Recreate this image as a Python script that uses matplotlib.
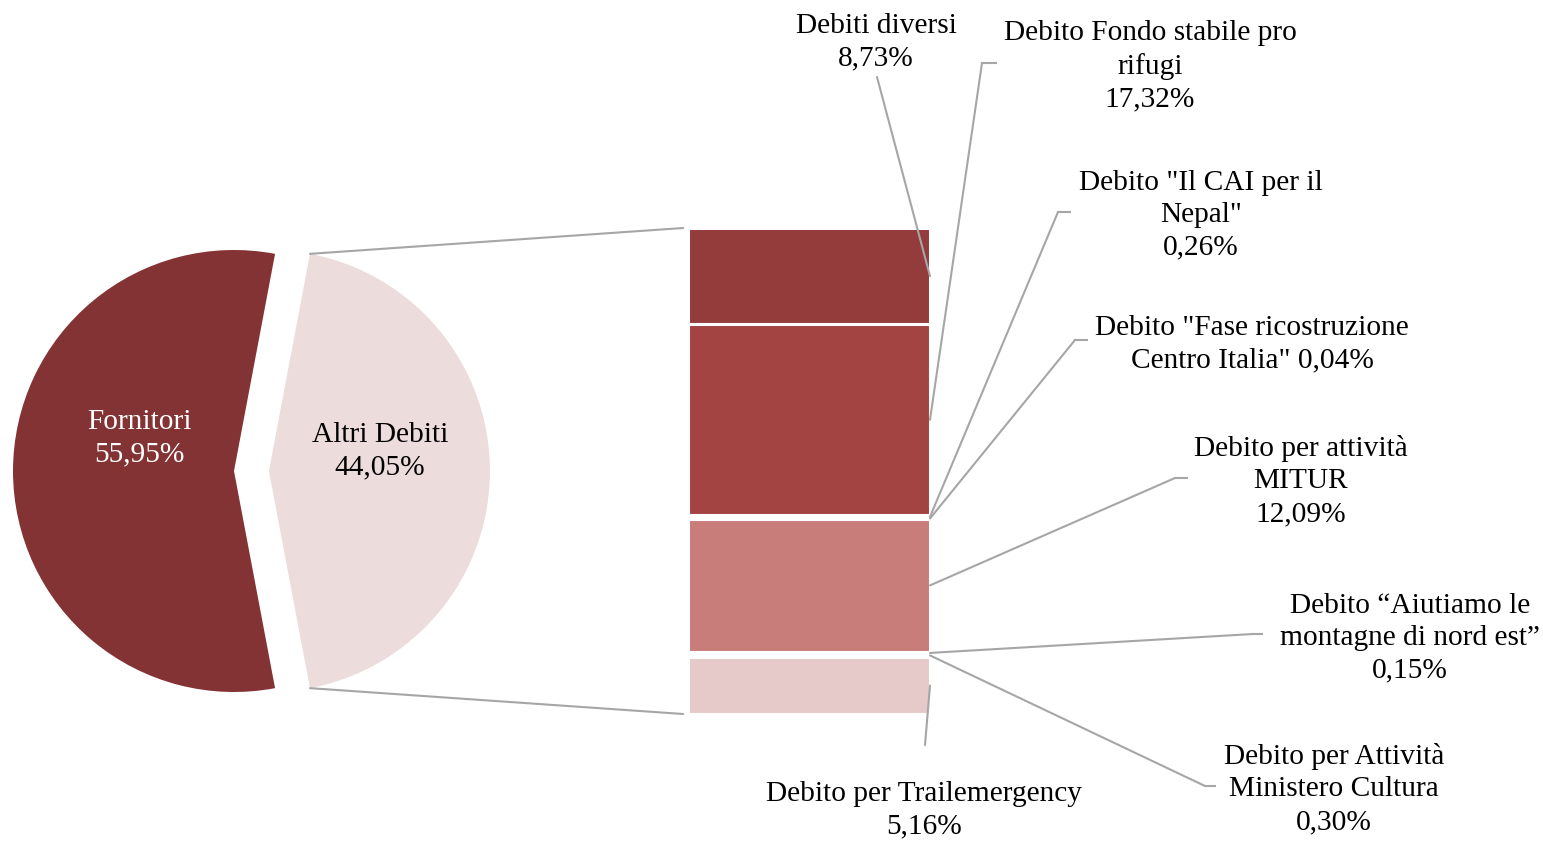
import numpy as np
import matplotlib.pyplot as plt
from matplotlib.patches import ConnectionPatch
from matplotlib.lines import Line2D

plt.rcParams['font.family'] = ['Liberation Serif', 'DejaVu Serif']

# pie data
pie_labels = ['Fornitori', 'Altri Debiti']
pie_values = [55.95, 44.05]
pie_colors = ['#843335', '#ECDCDC']

# breakdown of "Altri Debiti", top to bottom
bar_labels = ['Debiti diversi', 'Debito Fondo stabile pro\nrifugi',
              'Debito "Il CAI per il\nNepal"', 'Debito "Fase ricostruzione\nCentro Italia"',
              'Debito per attività\nMITUR', 'Debito \u201cAiutiamo le\nmontagne di nord est\u201d',
              'Debito per Attività\nMinistero Cultura', 'Debito per Trailemergency']
bar_values = [8.73, 17.32, 0.26, 0.04, 12.09, 0.15, 0.30, 5.16]
bar_colors = ['#943B3B', '#A34442', '#B55A58', '#BE6A68', '#C87D7B', '#D9A5A4', '#DDB3B2', '#E6CACA']

W, H = 1543, 841
FS = 21.2
LS = 1.32
fig = plt.figure(figsize=(W / 100, H / 100), dpi=100)

def fpos(x, y):
    return x / W, 1 - y / H

def pct(v):
    return f'{v:.2f}'.replace('.', ',') + '%'

# --- pie ---
R = 221.0
cx, cy = 234, 471.5
ax1 = fig.add_axes([0, (H - 721) / H, 520 / W, 500 / H])
start = 180 * pie_values[1] / 100
explode = [0, 0.158]
wedges, _ = ax1.pie(pie_values, colors=pie_colors, startangle=start, explode=explode,
                    radius=1, wedgeprops=dict(linewidth=0))
ax1.set_xlim(-cx / R, (520 - cx) / R)
ax1.set_ylim(-250 / R, 250 / R)
ax1.set_aspect('auto')
ax1.axis('off')

ax1.text(-0.43, 0.15, pie_labels[0] + '\n' + pct(pie_values[0]),
         ha='center', va='center', color='white', fontsize=FS, linespacing=LS)
ax1.text(0.66, 0.088, pie_labels[1] + '\n' + pct(pie_values[1]),
         ha='center', va='center', color='black', fontsize=FS, linespacing=LS)

# --- stacked bar ---
ax2 = fig.add_axes([688 / W, (H - 714) / H, 242 / W, 486 / H])
total = sum(bar_values)
bottom = total
mids = []
for v, c in zip(bar_values, bar_colors):
    bottom -= v
    ax2.bar(0, v, bottom=bottom, width=1, color=c, edgecolor='white', linewidth=2.2)
    mids.append(bottom + v / 2)
ax2.set_xlim(-0.5, 0.5)
ax2.set_ylim(0, total)
ax2.axis('off')

# connectors pie -> bar
theta = np.deg2rad(start)
x0 = explode[1] + np.cos(theta)
y0 = np.sin(theta)
for ys, yb in [(y0, total), (-y0, 0)]:
    con = ConnectionPatch(xyA=(x0, ys), coordsA=ax1.transData,
                          xyB=(-0.52, yb), coordsB=ax2.transData,
                          color='#A6A6A6', linewidth=1.5)
    fig.add_artist(con)

# labels and leader lines (elbow, end of horizontal tick, text centre)
label_layout = [
    ((877, 77), None, (876, 42)),
    ((982, 63), (996, 63), (1150, 66)),
    ((1058, 212), (1070, 212), (1201, 215)),
    ((1075, 340), (1087, 340), (1252, 344)),
    ((1175, 478), (1187, 478), (1301, 481)),
    ((1253, 634), (1262, 634), (1410, 638)),
    ((1205, 786), (1215, 786), (1334, 789)),
    ((925, 745), None, (924, 810)),
]
for lab, v, m, (elbow, tick, tpos) in zip(bar_labels, bar_values, mids, label_layout):
    if 'Fase' in lab:
        txt = lab + ' ' + pct(v)
    else:
        txt = lab + '\n' + pct(v)
    ax2.annotate('', xy=(0.5, m), xycoords='data', xytext=fpos(*elbow),
                 textcoords='figure fraction',
                 arrowprops=dict(arrowstyle='-', color='#A6A6A6', lw=1.5,
                                 shrinkA=0, shrinkB=0))
    if tick is not None:
        fig.add_artist(Line2D([elbow[0] / W, tick[0] / W], [1 - elbow[1] / H, 1 - tick[1] / H],
                              color='#A6A6A6', linewidth=1.5))
    fx, fy = fpos(*tpos)
    fig.text(fx, fy, txt, ha='center', va='center', fontsize=FS, linespacing=LS)

fig.savefig('out.png', dpi=100)
